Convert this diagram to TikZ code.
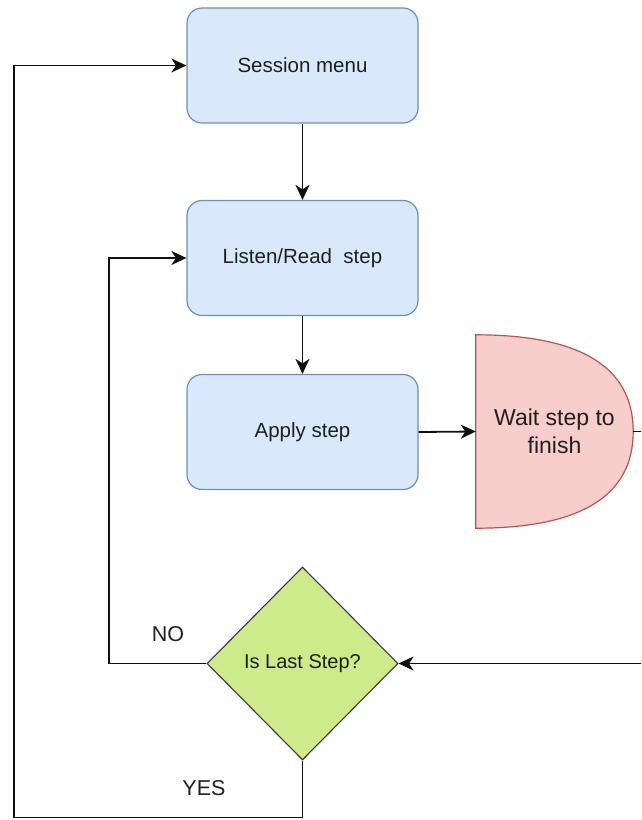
\documentclass[tikz,border=0pt]{standalone}
\usepackage{fontspec}
\setmainfont{Liberation Sans}
\usetikzlibrary{shapes.geometric,arrows.meta,calc}

\definecolor{boxfill}{HTML}{DAE8FC}
\definecolor{boxline}{HTML}{6C8EBF}
\definecolor{waitfill}{HTML}{F8CECC}
\definecolor{waitline}{HTML}{B85450}
\definecolor{decfill}{HTML}{CDEB8B}
\definecolor{decline}{HTML}{36393D}
\definecolor{txt}{HTML}{1F1F1F}
\definecolor{wire}{HTML}{101010}

\tikzset{
  stepbox/.style={draw=boxline, fill=boxfill, line width=1.2pt,
    rounded corners=15pt, minimum width=231pt, minimum height=115pt,
    inner sep=0pt, text=txt, font=\fontsize{20.5}{24}\selectfont},
  waitbox/.style={minimum width=157pt, minimum height=193pt, inner sep=0pt,
    text=txt, align=center, font=\fontsize{23}{28}\selectfont},
  waitshape/.style={draw=waitline, fill=waitfill, line width=1.2pt},
  decision/.style={diamond, draw=decline, fill=decfill, line width=1.1pt,
    minimum width=191pt, minimum height=193pt, inner sep=0pt, aspect=1,
    text=txt, font=\fontsize{20}{24}\selectfont},
  branch/.style={text=txt, font=\fontsize{21.5}{26}\selectfont},
  flow/.style={draw=wire, line width=1.8pt,
    -{Stealth[length=15pt, width=14pt, inset=4.5pt]}},
}

\begin{document}
\begin{tikzpicture}[x=1pt, y=-1pt]
  \useasboundingbox (0,0) rectangle (641,820);
  \clip (0,0) rectangle (641,820);

  % process boxes
  \node[stepbox] (session) at (302.5,65.5) {Session menu};
  \node[stepbox] (listen)  at (302.5,258)  {Listen/Read\ \ step};
  \node[stepbox] (apply)   at (302.5,432)  {Apply step};

  % waiting stage: flat left side, curved right side
  \node[waitbox] (wait) at (554.5,431.5) {};
  \path[waitshape] (wait.north west)
      .. controls ($(wait.north west)!0.6667!(wait.north east)$) and ($(wait.east)!0.6667!(wait.north east)$) .. (wait.east)
      .. controls ($(wait.east)!0.6667!(wait.south east)$) and ($(wait.south west)!0.6667!(wait.south east)$) .. (wait.south west)
      -- cycle;
  \node[waitbox] at (wait.center) {Wait step to\\finish};

  % decision
  \node[decision] (last) at (302.5,663.5) {Is Last Step?};

  % branch labels
  \node[branch] (nolabel)  at (168,634) {NO};
  \node[branch] (yeslabel) at (204,788) {YES};

  % connectors
  \coordinate (noturn)  at (109,663.5);
  \coordinate (yesturn) at (14,817.5);
  \coordinate (outer)   at (672,431.5);

  \draw[flow] (session.south) -- (listen.north);
  \draw[flow] (listen.south) -- (apply.north);
  \draw[flow] (apply.east) -- (wait.west);
  \draw[flow] (wait.east) -- (outer) |- (last.east);
  \draw[flow] (last.west) -- (noturn) |- (listen.west);
  \draw[flow] (last.south) |- (yesturn) |- (session.west);
\end{tikzpicture}
\end{document}
